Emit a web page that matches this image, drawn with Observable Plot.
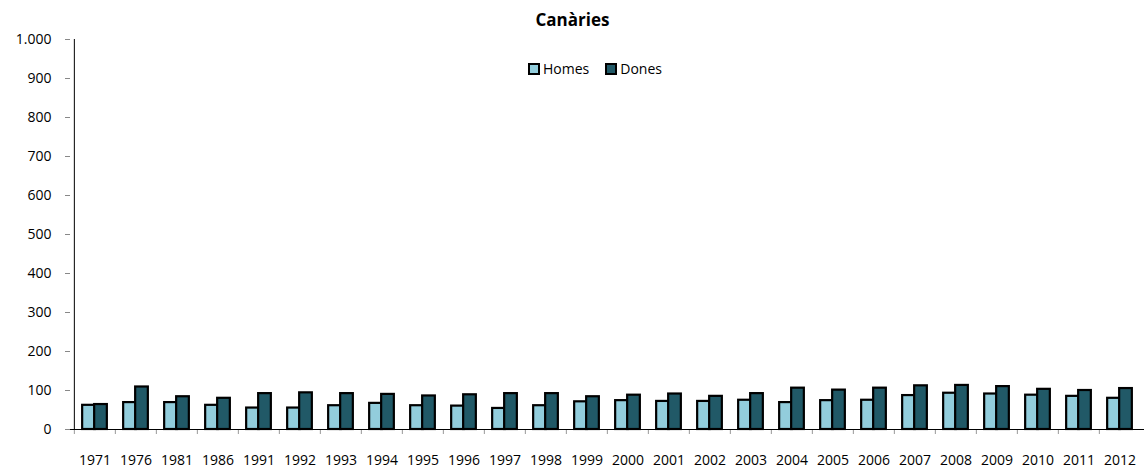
<!DOCTYPE html>
<html>
<head>
<meta charset="utf-8">
<script src="https://cdn.jsdelivr.net/npm/d3@7"></script>
<script src="https://cdn.jsdelivr.net/npm/@observablehq/plot@0.6"></script>
<style>
  body { margin: 0; background: #fff; font-family: "Open Sans", sans-serif; }
  #wrap { position: relative; width: 1145px; height: 469px; }
  #title { height: 30px; line-height: 40px; text-align: center; font-weight: bold; font-size: 17px; color: #000; }
  #legend { position: absolute; top: 59px; left: 528px; font-size: 14px; display: flex; align-items: center; color: #000; }
  #legend .item { display: flex; align-items: center; margin-right: 16px; }
  #legend .sw { width: 8px; height: 8px; border: 2px solid #000; margin-right: 3px; }
  svg { display: block; }
</style>
</head>
<body>
<div id="wrap">
  <div id="title">Canàries</div>
  <div id="legend"></div>
  <div id="chart"></div>
</div>
<script>
const years = ["1971","1976","1981","1986","1991","1992","1993","1994","1995","1996","1997","1998","1999","2000","2001","2002","2003","2004","2005","2006","2007","2008","2009","2010","2011","2012"];
const homes = [62,69,69,62,55,55,61,67,61,60,54,61,71,74,72,72,75,69,74,75,87,93,91,88,85,80];
const dones = [64,109,84,80,92,94,92,90,86,89,92,92,84,88,91,85,92,106,101,106,112,113,110,103,100,105];
const seriesNames = ["Homes","Dones"];
const seriesColors = ["#92CDDC","#215967"];
const yTicks = [0,100,200,300,400,500,600,700,800,900,1000];

const W = 1145, H = 439, ML = 70, MR = 1, MT = 9, MB = 40;
const bw = (W - ML - MR) / years.length;
const barW = 12;
const outer = (bw - 2 * barW) / 2;

const data = years.map((y, i) => ({year: y, Homes: homes[i], Dones: dones[i]}));
const fmt = d => d3.format(",")(d).replace(/,/g, ".");

const chart = Plot.plot({
  width: W, height: H,
  marginLeft: ML, marginRight: MR, marginTop: MT, marginBottom: MB,
  style: {fontFamily: "Open Sans, sans-serif", fontSize: "14px", color: "#000", background: "#fff"},
  x: {type: "band", domain: years, padding: 0, label: null},
  y: {domain: [0, 1000], label: null},
  marks: [
    Plot.axisY({ticks: yTicks, tickSize: 5, tickPadding: 14, tickFormat: fmt, stroke: "#888", label: null, fill: "#000", fontSize: 14}),
    Plot.axisX({tickSize: 0, tickPadding: 26, label: null, fontSize: 14}),
    Plot.axisX({tickSize: 5, text: null, dx: -bw / 2, stroke: "#999", label: null}),
    Plot.barY(data, {x: "year", y: "Homes", fill: seriesColors[0], stroke: "#000", strokeWidth: 2.2, insetLeft: outer - 0.5, insetRight: outer + barW - 0.5}),
    Plot.barY(data, {x: "year", y: "Dones", fill: seriesColors[1], stroke: "#000", strokeWidth: 2.2, insetLeft: outer + barW - 0.5, insetRight: outer - 0.5}),
    Plot.ruleY([0], {stroke: "#000", strokeWidth: 1}),
    Plot.ruleX([years[0]], {y1: 0, y2: 1000, dx: -bw / 2, stroke: "#000", strokeWidth: 1})
  ]
});
document.getElementById("chart").appendChild(chart);

const legend = document.getElementById("legend");
seriesNames.forEach((n, i) => {
  const it = document.createElement("div");
  it.className = "item";
  const sw = document.createElement("div");
  sw.className = "sw";
  sw.style.background = seriesColors[i];
  const t = document.createElement("span");
  t.textContent = n;
  it.appendChild(sw); it.appendChild(t);
  legend.appendChild(it);
});
</script>
</body>
</html>
